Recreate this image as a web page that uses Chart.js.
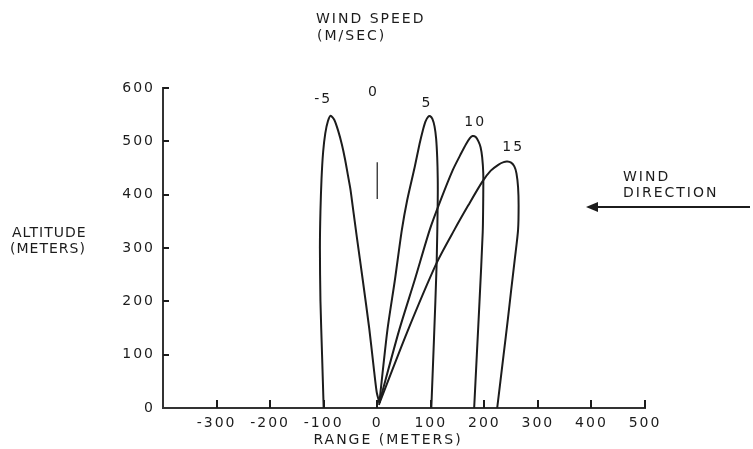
<!DOCTYPE html>
<html>
<head>
<meta charset="utf-8">
<script src="https://cdn.jsdelivr.net/npm/chart.js@4.4.1/dist/chart.umd.min.js"></script>
<style>
  html, body { margin: 0; padding: 0; background: #fff; }
  #wrap { width: 753px; height: 449px; }
</style>
</head>
<body>
<div id="wrap"><canvas id="myChart" width="753" height="449"></canvas></div>
<script>
// wind speeds (m/sec) labelling each trajectory
const speeds = ['-5', '0', '5', '10', '15'];

// range (m) / altitude (m), one pair per wind speed
const rangeM5 = [-100, -103, -106, -107, -106, -104, -101, -97, -92, -87, -80, -73, -66, -60, -55, -50, -46, -42, -38, -27, -15, -7, -1, 4];
const altM5   = [0, 100, 200, 300, 370, 430, 480, 515, 538, 548, 540, 520, 494, 466, 438, 410, 380, 350, 320, 240, 150, 80, 30, 10];

const range0 = [0, 0];
const alt0   = [392, 461];

const range5 = [4, 19, 33, 46, 56, 70, 79, 85, 90, 95, 99, 103, 107, 110, 112, 113, 113, 111, 106, 101];
const alt5   = [10, 146, 240, 334, 390, 452, 495, 520, 537, 546, 547, 542, 528, 505, 470, 430, 390, 272, 130, 0];

const range10 = [4, 41, 70, 98, 117, 141, 157, 166, 173, 178, 184, 189, 193, 196, 198, 198, 197, 191, 186, 181];
const alt10   = [10, 146, 240, 334, 386, 446, 478, 495, 506, 510, 508, 500, 489, 470, 440, 400, 330, 200, 100, 0];

const range15 = [3, 55, 111, 144, 170, 196, 212, 226, 236, 243, 250, 256, 260, 263, 264, 263, 257, 250, 244, 236, 224];
const alt15   = [6, 140, 272, 334, 380, 424, 445, 456, 461, 462, 460, 453, 440, 414, 380, 334, 280, 220, 167, 100, 0];

// axis ticks
const xTicks = [-300, -200, -100, 0, 100, 200, 300, 400, 500];
const yTicks = [0, 100, 200, 300, 400, 500, 600];

const pairs = [[rangeM5, altM5], [range0, alt0], [range5, alt5], [range10, alt10], [range15, alt15]];

// where the speed labels sit, in data units
const labelAt = [[-101, 579], [-7, 592], [93, 572], [183, 536], [254, 489]];

const FONT = '"DejaVu Sans", sans-serif';
const INK = '#1c1c1c';

const decor = {
  id: 'decor',
  beforeDraw(chart) {
    chart.ctx.letterSpacing = '2px';
  },
  afterDraw(chart) {
    const c = chart.ctx;
    const sx = chart.scales.x, sy = chart.scales.y;
    const bottom = sy.getPixelForValue(0);
    const left = sx.getPixelForValue(-400);
    c.save();
    c.setLineDash([]);
    c.globalAlpha = 1;
    c.strokeStyle = INK;
    c.lineWidth = 2;
    c.lineCap = 'butt';
    // inward tick marks
    c.beginPath();
    xTicks.forEach(v => {
      const px = Math.round(sx.getPixelForValue(v));
      c.moveTo(px, bottom);
      c.lineTo(px, bottom - 8);
    });
    yTicks.forEach(v => {
      if (v === 0) return;
      const py = Math.round(sy.getPixelForValue(v));
      c.moveTo(left, py);
      c.lineTo(left + 6, py);
    });
    c.stroke();

    c.fillStyle = INK;
    c.font = '14px ' + FONT;
    c.letterSpacing = '2px';
    c.textBaseline = 'middle';

    // speed labels
    c.textAlign = 'center';
    speeds.forEach((s, i) => {
      c.fillText(s, sx.getPixelForValue(labelAt[i][0]), sy.getPixelForValue(labelAt[i][1]));
    });

    // titles
    c.textAlign = 'left';
    c.fillText('WIND SPEED', 316, 19);
    c.fillText('(M/SEC)', 317, 36);
    c.fillText('WIND', 623, 177);
    c.fillText('DIRECTION', 623, 193);
    c.letterSpacing = '1px';
    c.fillText('ALTITUDE', 12, 233);
    c.fillText('(METERS)', 10, 249);
    c.letterSpacing = '2px';
    c.textAlign = 'center';
    c.fillText('RANGE (METERS)', 388, 440);

    // wind direction arrow
    c.beginPath();
    c.moveTo(596, 207);
    c.lineTo(750, 207);
    c.stroke();
    c.beginPath();
    c.moveTo(586, 207);
    c.lineTo(598, 202);
    c.lineTo(598, 212);
    c.closePath();
    c.fill();
    c.restore();
  }
};

const ctx = document.getElementById('myChart');

new Chart(ctx, {
  type: 'scatter',
  data: {
    datasets: pairs.map((p, i) => ({
      label: speeds[i],
      data: p[0].map((v, k) => ({ x: v, y: p[1][k] })),
      showLine: true,
      borderColor: INK,
      borderWidth: i === 1 ? 1.2 : 2,
      pointRadius: 0,
      tension: 0.25
    }))
  },
  options: {
    responsive: false,
    animation: false,
    layout: { padding: { left: 0, top: 88, right: 108, bottom: 0 } },
    plugins: { legend: { display: false }, tooltip: { enabled: false } },
    scales: {
      x: {
        type: 'linear',
        min: -400,
        max: 500,
        afterFit: s => { s.height = 41; },
        afterBuildTicks: s => { s.ticks = [-400].concat(xTicks).map(v => ({ value: v })); },
        grid: { display: false, drawTicks: false },
        border: { display: true, color: '#333', width: 2 },
        ticks: {
          padding: 7,
          color: INK,
          font: { family: FONT, size: 14 },
          maxRotation: 0,
          autoSkip: false,
          callback: v => (v === -400 ? '' : String(v))
        }
      },
      y: {
        type: 'linear',
        min: 0,
        max: 600,
        afterFit: s => { s.width = 163; },
        afterBuildTicks: s => { s.ticks = yTicks.map(v => ({ value: v })); },
        grid: { display: false, drawTicks: false },
        border: { display: true, color: '#333', width: 2 },
        ticks: {
          padding: 8,
          color: INK,
          font: { family: FONT, size: 14 },
          autoSkip: false
        }
      }
    }
  },
  plugins: [decor]
});
</script>
</body>
</html>
